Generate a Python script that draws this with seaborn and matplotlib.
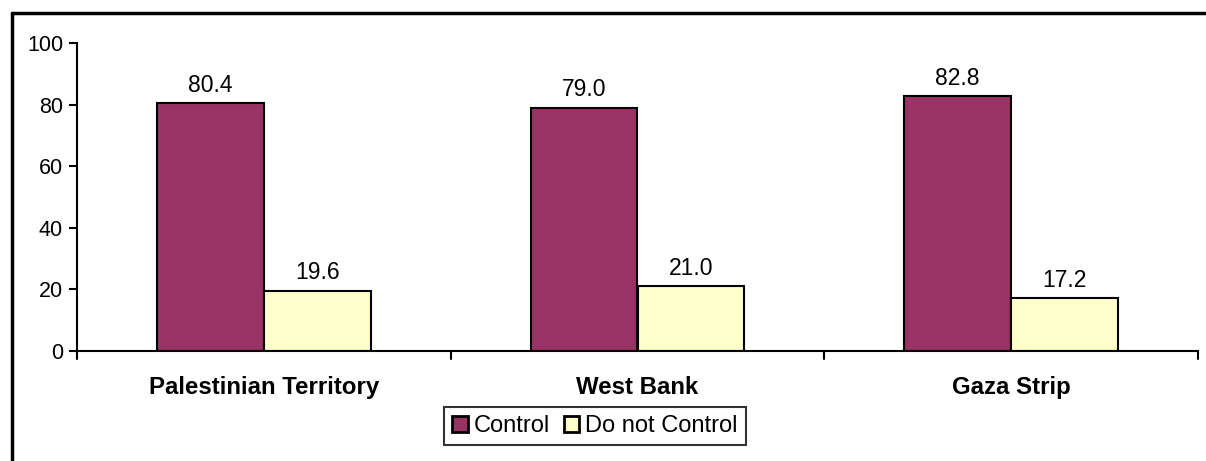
import matplotlib
matplotlib.use("Agg")
import matplotlib.pyplot as plt
import seaborn as sns
import pandas as pd
from matplotlib.lines import Line2D

regions = ["Palestinian Territory", "West Bank", "Gaza Strip"]
control = [80.4, 79.0, 82.8]
do_not_control = [19.6, 21.0, 17.2]
series_names = ["Control", "Do not Control"]
colors = ["#993366", "#FFFFCC"]

df = pd.DataFrame({
    "region": regions * 2,
    "value": control + do_not_control,
    "series": [series_names[0]] * 3 + [series_names[1]] * 3,
})

sns.set_style("white")
plt.rcParams["font.family"] = ["Liberation Sans", "DejaVu Sans"]
plt.rcParams["text.color"] = "black"
plt.rcParams["xtick.color"] = "black"
plt.rcParams["ytick.color"] = "black"

W, H = 1206, 461
fig = plt.figure(figsize=(W / 100, H / 100), dpi=100)
ax = fig.add_axes([77 / W, 1 - 351 / H, (1198 - 77) / W, (351 - 43) / H])

sns.barplot(data=df, x="region", y="value", hue="series", palette=colors,
            width=0.572, edgecolor="black", linewidth=1.5, ax=ax,
            saturation=1, legend=True)

for container in ax.containers:
    ax.bar_label(container, fmt="%.1f", padding=4.5, fontsize=16.5, color="black")

ax.set_xlim(-0.5, 2.5)
ax.set_ylim(0, 100)
ax.set_yticks([0, 20, 40, 60, 80, 100])
ax.tick_params(axis="y", labelsize=15.5, length=6, width=1.5, direction="out", pad=4, left=True)
ax.set_xticks([0, 1, 2])
ax.set_xticklabels(regions, fontsize=17.3, fontweight="bold")
ax.tick_params(axis="x", length=0, pad=18)
# category separators on the x axis
for xb in [-0.5, 0.5, 1.5, 2.5]:
    ax.plot([xb, xb], [0, -0.026], transform=ax.get_xaxis_transform(),
            color="black", lw=1.5, clip_on=False)
ax.set_xlabel("")
ax.set_ylabel("")
for s in ["top", "right"]:
    ax.spines[s].set_visible(False)
for s in ["left", "bottom"]:
    ax.spines[s].set_color("black")
    ax.spines[s].set_linewidth(1.5)

handles, labels = ax.get_legend_handles_labels()
ax.legend_.remove()
leg = fig.legend(handles, labels, loc="center", bbox_to_anchor=(595 / W, 1 - 426 / H),
                 ncol=2, frameon=True, fancybox=False, fontsize=17,
                 handlelength=0.65, handleheight=0.65, handletextpad=0.25,
                 columnspacing=0.6, borderpad=0.35, borderaxespad=0,
                 edgecolor="black")
leg.get_frame().set_linewidth(1.5)
for h in leg.legend_handles:
    h.set_linewidth(2)

# outer chart frame
fig.add_artist(Line2D([12 / W, 1.0], [1 - 13 / H, 1 - 13 / H], color="black", lw=2.5,
                      transform=fig.transFigure))
fig.add_artist(Line2D([12 / W, 12 / W], [1 - 13 / H, 0.0], color="black", lw=2.5,
                      transform=fig.transFigure))

fig.savefig("out.png", dpi=100, facecolor="white")
